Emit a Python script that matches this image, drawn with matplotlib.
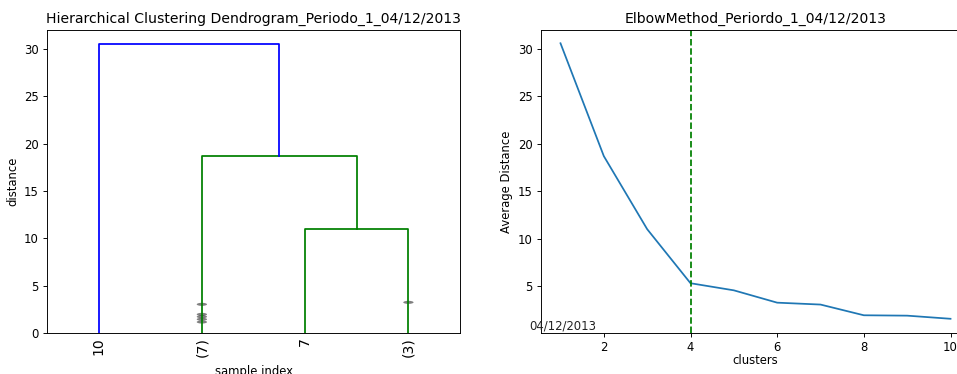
import numpy as np
import matplotlib
matplotlib.use("Agg")
import matplotlib.pyplot as plt
from matplotlib.patches import Ellipse

# --- Dendrogram data (truncated, lastp=4) ---
leaf_labels = ["10", "(7)", "7", "(3)"]
# merges: (left node, right node, height); nodes 0..3 are leaves, 4.. are merges
merges = [
    (2, 3, 11.0),
    (1, 4, 18.7),
    (0, 5, 30.5),
]
merge_colors = ["g", "g", "b"]
contracted = {
    1: [3.03, 1.97, 1.72, 1.45, 1.16],
    3: [3.24],
}

# --- Elbow data ---
clusters = [1, 2, 3, 4, 5, 6, 7, 8, 9, 10]
avg_distance = [30.6, 18.7, 11.0, 5.3, 4.55, 3.25, 3.05, 1.92, 1.88, 1.55]
elbow_k = 4
date_label = "04/12/2013"

DPI = 84
fig = plt.figure(figsize=(957 / DPI, 374 / DPI), dpi=DPI)
ax1 = fig.add_axes([0.0491, 0.1096, 0.4316, 0.8102])
ax2 = fig.add_axes([0.5653, 0.1096, 0.4483, 0.8102])

# ---------------------------------------------------------------------
# Dendrogram
# ---------------------------------------------------------------------
node_x = [5 + 10 * i for i in range(len(leaf_labels))]
node_y = [0.0] * len(leaf_labels)
for (a, b, h), c in zip(merges, merge_colors):
    xs = [node_x[a], node_x[a], node_x[b], node_x[b]]
    ys = [node_y[a], h, h, node_y[b]]
    ax1.plot(xs, ys, color=c, linewidth=1.5)
    node_x.append((node_x[a] + node_x[b]) / 2)
    node_y.append(h)

ymax = max(h for _, _, h in merges) * 1.05
for leaf, heights in contracted.items():
    for h in heights:
        e = Ellipse((node_x[leaf], h), width=1.0, height=ymax / 100)
        e.set_alpha(0.5)
        e.set_facecolor("k")
        ax1.add_patch(e)

n = len(leaf_labels)
ax1.set_xlim(0, 10 * n)
ax1.set_ylim(0, ymax)
ax1.set_xticks(node_x[:n])
ax1.set_xticklabels(leaf_labels, rotation=90, fontsize=12)
ax1.tick_params(axis="x", length=0)
ax1.set_title("Hierarchical Clustering Dendrogram_Periodo_1_04/12/2013")
ax1.set_xlabel("sample index", labelpad=6.5)
ax1.set_ylabel("distance")

# ---------------------------------------------------------------------
# Elbow
# ---------------------------------------------------------------------
ax2.plot(clusters, avg_distance)
ax2.axvline(x=elbow_k, color="g", linestyle="--")
ax2.set_ylim(0.05, 32.0)
ax2.set_xticks([2, 4, 6, 8, 10])
ax2.text(0.285, 0.45, date_label, fontsize=10, color="#222222")
ax2.set_title("ElbowMethod_Periordo_1_04/12/2013")
ax2.set_xlabel("clusters", labelpad=0)
ax2.set_ylabel("Average Distance")

fig.savefig("out.png", dpi=DPI)
